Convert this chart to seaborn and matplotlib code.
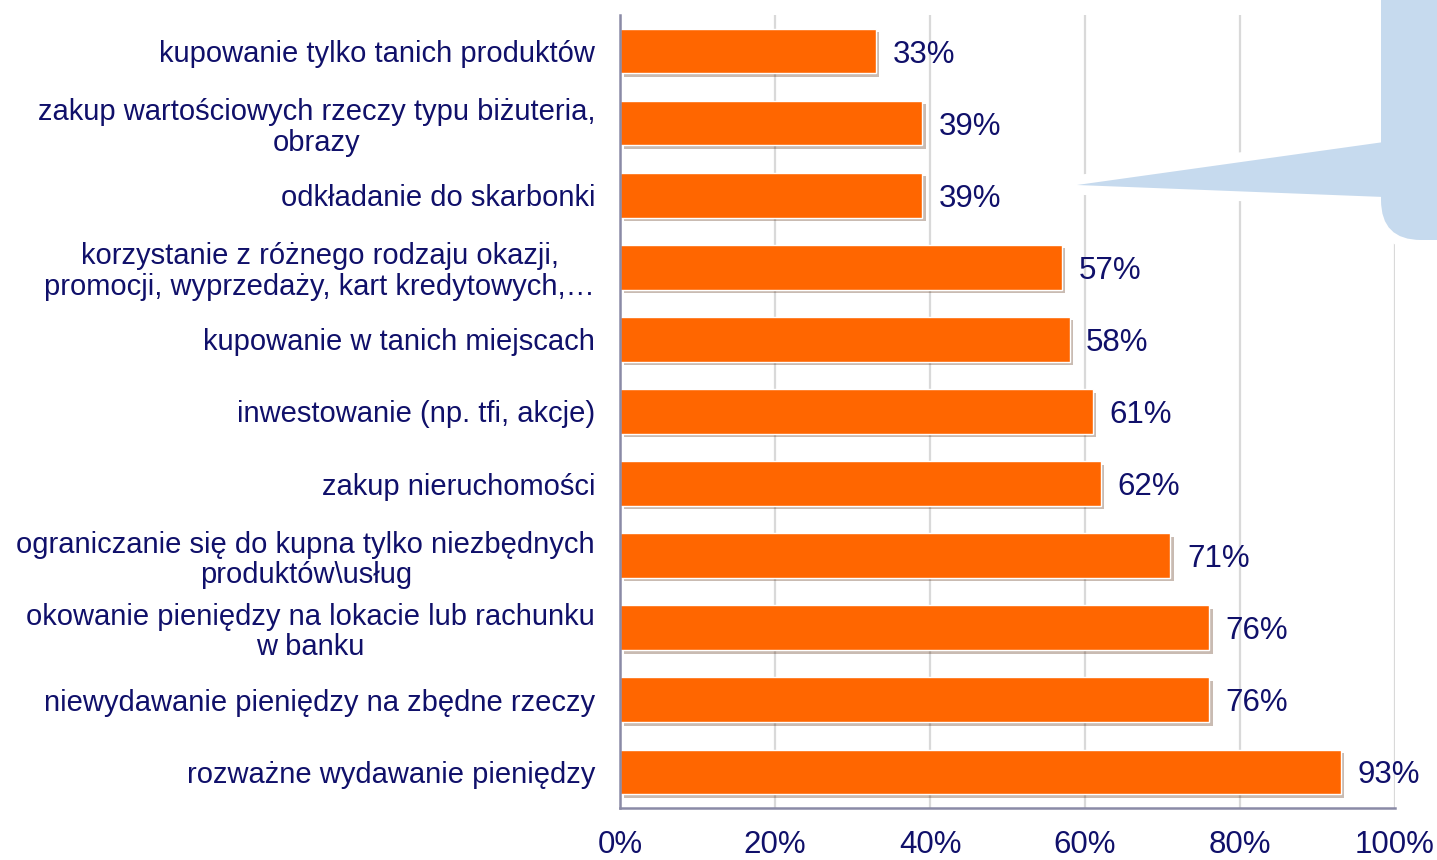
import numpy as np
import pandas as pd
import matplotlib
matplotlib.use("Agg")
import matplotlib.pyplot as plt
import matplotlib.patheffects as pe
from matplotlib.patches import FancyBboxPatch, Polygon
from matplotlib.transforms import IdentityTransform
from matplotlib.ticker import PercentFormatter
import seaborn as sns

# categories (top to bottom) and shares
categories = [
    "kupowanie tylko tanich produktów",
    "zakup wartościowych rzeczy typu biżuteria,\nobrazy",
    "odkładanie do skarbonki",
    "korzystanie z różnego rodzaju okazji,\npromocji, wyprzedaży, kart kredytowych,…",
    "kupowanie w tanich miejscach",
    "inwestowanie (np. tfi, akcje)",
    "zakup nieruchomości",
    "ograniczanie się do kupna tylko niezbędnych\nproduktów\\usług",
    "okowanie pieniędzy na lokacie lub rachunku\nw banku",
    "niewydawanie pieniędzy na zbędne rzeczy",
    "rozważne wydawanie pieniędzy",
]
shares = [0.33, 0.39, 0.39, 0.57, 0.58, 0.61, 0.62, 0.71, 0.76, 0.76, 0.93]
x_ticks = [0, 0.2, 0.4, 0.6, 0.8, 1.0]

navy = "#10106a"
spine_col = "#8a8aa6"
orange = "#ff6600"

sns.set_style("white")
plt.rcParams["font.family"] = ["Liberation Sans", "DejaVu Sans"]

df = pd.DataFrame({"label": categories, "share": shares})

fig = plt.figure(figsize=(14.37, 8.6), dpi=100)
ax = fig.add_axes([0.4315, 0.0605, 0.5393, 0.9221])

sns.barplot(data=df, x="share", y="label", orient="h", color=orange,
            saturation=1, width=0.62, edgecolor="white", linewidth=1,
            zorder=3, ax=ax)

for bar in ax.patches:
    bar.set_path_effects([pe.SimplePatchShadow(offset=(2.5, -2.5), alpha=0.3),
                          pe.Normal()])

texts = ax.bar_label(ax.containers[0],
                     labels=[f"{v*100:.0f}%" for v in shares],
                     padding=12, fontsize=22.5, color=navy)
for t in texts:
    t.set_va("center_baseline")

ax.set_xlim(0, 1)
ax.set_ylim(10.5, -0.5)
ax.set_xticks(x_ticks)
ax.xaxis.set_major_formatter(PercentFormatter(1.0, decimals=0))
ax.set_yticks(np.arange(-0.5, 11, 1), minor=True)
ax.set_xlabel("")
ax.set_ylabel("")

ax.tick_params(axis="y", which="major", length=0, pad=18, labelsize=21,
               labelcolor=navy)
ax.tick_params(axis="y", which="minor", length=5.5, width=1.5,
               color=spine_col, direction="out")
ax.tick_params(axis="x", which="major", length=6, width=1.5, color=spine_col,
               direction="out", pad=10, labelsize=22.5, labelcolor=navy)
for lab in ax.get_yticklabels():
    lab.set_multialignment("center")
    lab.set_linespacing(1.12)

ax.grid(axis="x", color="#d9d9d9", linewidth=1.6, zorder=0)
ax.set_axisbelow(True)
for side in ["top", "right"]:
    ax.spines[side].set_visible(False)
for side in ["left", "bottom"]:
    ax.spines[side].set_color(spine_col)
    ax.spines[side].set_linewidth(1.8)
    ax.spines[side].set_zorder(4)

# callout shape at top right (pixel coordinates)
H = 860
tr = IdentityTransform()
pointer = [(1384, H - 142), (1077, H - 185), (1384, H - 197)]
for fc, ec, lw, z in [("white", "white", 14, 5), ("#c6daee", "none", 0, 6)]:
    box = FancyBboxPatch((1381, H - 240), 120, 300,
                         boxstyle="round,pad=0,rounding_size=40",
                         transform=tr, facecolor=fc, edgecolor=ec,
                         linewidth=lw, zorder=z)
    tri = Polygon(pointer, closed=True, transform=tr, facecolor=fc,
                  edgecolor=ec, linewidth=lw, joinstyle="round", zorder=z)
    fig.add_artist(box)
    fig.add_artist(tri)

fig.savefig("out.png", dpi=100)
